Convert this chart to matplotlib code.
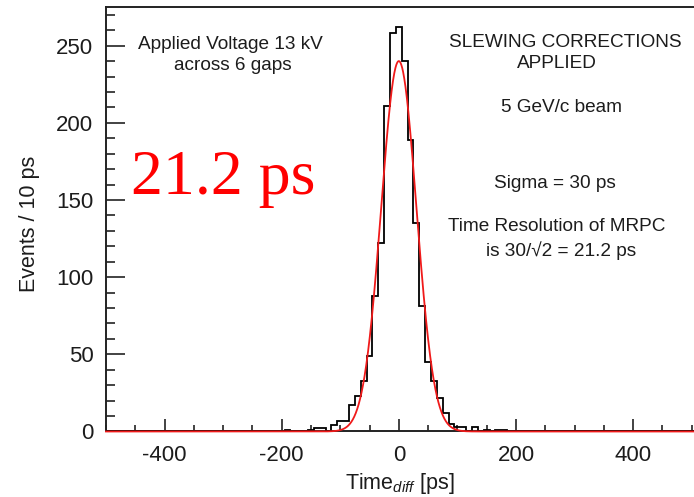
import numpy as np
import matplotlib as mpl
mpl.use('Agg')
import matplotlib.pyplot as plt

plt.rcParams['font.family'] = ['Liberation Sans', 'DejaVu Sans']
plt.rcParams['mathtext.fontset'] = 'custom'
plt.rcParams['mathtext.rm'] = 'Liberation Sans'
plt.rcParams['mathtext.it'] = 'Liberation Sans:italic'

# time difference histogram, 10 ps bins (bin centres in ps, events per bin)
bin_centers = [-190, -150, -140, -130, -110, -100, -90, -80, -70, -60, -50,
               -40, -30, -20, -10, 0, 10, 20, 30, 40, 50, 60, 70, 80, 90,
               100, 110, 130, 150, 170, 180]
event_counts = [1, 1, 2, 2, 4, 7, 7, 17, 23, 33, 49,
                88, 122, 211, 258, 262, 240, 189, 135, 81, 45, 33, 22, 12, 5,
                3, 3, 3, 1, 1, 1]

# gaussian fit
fit_amp = 240
fit_mean = 0
fit_sigma = 30

txt_col = '#1c1c1c'

fig = plt.figure(figsize=(6.94, 4.97), dpi=100)
ax = fig.add_axes([0.1527, 0.1318, 0.8473, 0.854])

edges = np.arange(-505, 515, 10)
ax.hist(bin_centers, bins=edges, weights=event_counts, histtype='step',
        color='black', linewidth=1.3, zorder=3)

t = np.linspace(-500, 504, 2000)
ax.plot(t, fit_amp * np.exp(-0.5 * ((t - fit_mean) / fit_sigma) ** 2),
        color='#f01a1a', linewidth=1.3, zorder=4, clip_on=False)

ax.set_xlim(-500, 504)
ax.set_ylim(0, 275)

ax.set_xticks([-400, -200, 0, 200, 400])
ax.set_xticklabels(['-400', '-200', '0', '200', '400'])
ax.set_xticks(np.arange(-500, 501, 50), minor=True)
ax.set_yticks([0, 50, 100, 150, 200, 250])
ax.set_yticks(np.arange(0, 271, 10), minor=True)

ax.tick_params(axis='both', which='both', direction='in', colors='#222222',
               width=1.2, labelcolor=txt_col, labelsize=16)
ax.tick_params(axis='x', which='major', length=9, pad=10)
ax.tick_params(axis='x', which='minor', length=4.5)
ax.tick_params(axis='y', which='major', length=14, pad=9)
ax.tick_params(axis='y', which='minor', length=6.5)

ax.spines['right'].set_visible(False)
for s in ['left', 'bottom', 'top']:
    ax.spines[s].set_linewidth(1.4)
    ax.spines[s].set_color('#222222')

ax.set_ylabel('Events / 10 ps', fontsize=15.5, color=txt_col)
ax.yaxis.set_label_coords(-0.112, 0.49)
ax.set_xlabel(r'Time$_{\mathit{diff}}$ [ps]', fontsize=15.5, color=txt_col)
ax.xaxis.set_label_coords(0.5, -0.093)

fs = 13.7
ax.text(-288, 251, 'Applied Voltage 13 kV', ha='center', va='center',
        fontsize=fs, color=txt_col)
ax.text(-284, 237, 'across 6 gaps', ha='center', va='center',
        fontsize=fs, color=txt_col)
ax.text(284, 252, 'SLEWING CORRECTIONS', ha='center', va='center',
        fontsize=fs, color=txt_col)
ax.text(270, 238.5, 'APPLIED', ha='center', va='center',
        fontsize=fs, color=txt_col)
ax.text(278, 210, '5 GeV/c beam', ha='center', va='center',
        fontsize=fs, color=txt_col)
ax.text(267, 161, 'Sigma = 30 ps', ha='center', va='center',
        fontsize=fs, color=txt_col)
ax.text(270, 133, 'Time Resolution of MRPC', ha='center', va='center',
        fontsize=fs, color=txt_col)
ax.text(277, 117.5, 'is 30/\u221a2 = 21.2 ps', ha='center', va='center',
        fontsize=fs, color=txt_col)

ax.text(-458, 154, '21.2 ps', ha='left', va='baseline', fontsize=46,
        color='#ff0000', family=['Liberation Serif', 'DejaVu Serif'])

fig.savefig('out.png', dpi=100)
